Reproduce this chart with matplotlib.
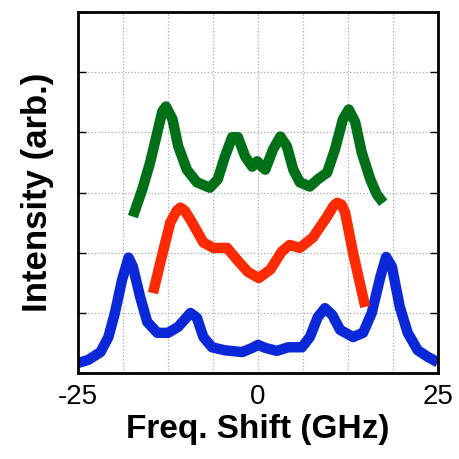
import matplotlib
matplotlib.use("Agg")
import matplotlib.pyplot as plt
from matplotlib.ticker import FixedLocator, FixedFormatter

plt.rcParams['font.family'] = ['Liberation Sans', 'DejaVu Sans']

# blue trace (bottom)
blue_x = [-25, -23.6, -21.9, -20.8, -19.9, -18.9, -18.0, -17.4, -16.4, -15.4, -14.0, -12.5,
          -11.1, -9.4, -8.5, -7.6, -6.4, -4.6, -2.2, -0.8, 0.0, 1.0, 2.6, 4.2, 6.1,
          7.2, 8.3, 9.3, 10.3, 11.4, 13.2, 14.6, 15.8, 17.0, 17.8, 18.6, 19.7, 20.8,
          22.2, 23.6, 25]
blue_y = [0.17, 0.22, 0.35, 0.60, 1.00, 1.55, 1.92, 1.77, 1.27, 0.85, 0.67, 0.67,
          0.77, 1.00, 0.92, 0.60, 0.43, 0.38, 0.35, 0.42, 0.47, 0.42, 0.37, 0.43, 0.43,
          0.60, 0.93, 1.08, 0.97, 0.72, 0.60, 0.67, 1.00, 1.60, 1.93, 1.77, 1.10, 0.67,
          0.38, 0.27, 0.18]

# red trace (middle)
red_x = [-14.6, -13.6, -12.2, -11.3, -10.8, -10.2, -9.4, -7.6, -6.2, -4.3, -2.9, -1.4, 0.1, 1.7,
         3.3, 4.4, 5.8, 7.6, 9.6, 10.5, 11.0, 11.6, 12.1, 13.2, 14.9]
red_y = [1.33, 1.83, 2.50, 2.70, 2.75, 2.70, 2.55, 2.17, 2.08, 2.08, 1.88, 1.68, 1.58, 1.72,
         2.02, 2.13, 2.08, 2.25, 2.60, 2.78, 2.83, 2.80, 2.67, 2.00, 1.10]

# green trace (top)
green_x = [-17.4, -16.1, -15.0, -14.0, -13.3, -12.8, -11.9, -11.1, -9.9, -8.5, -6.7, -5.6,
           -4.6, -3.6, -2.8, -1.8, -0.8, -0.1, 0.6, 1.0, 2.1, 3.1, 4.0, 4.9, 5.8,
           7.2, 8.3, 9.6, 10.7, 11.8, 12.6, 13.5, 14.4, 15.6, 16.5, 17.4]
green_y = [2.60, 3.05, 3.50, 4.00, 4.35, 4.43, 4.22, 3.77, 3.38, 3.17, 3.08, 3.22,
           3.60, 3.92, 3.92, 3.60, 3.43, 3.52, 3.42, 3.38, 3.72, 3.93, 3.77, 3.38, 3.17,
           3.10, 3.22, 3.33, 3.72, 4.22, 4.38, 4.17, 3.67, 3.22, 2.97, 2.83]

x_grid = [-25, -18.75, -12.5, -6.25, 0, 6.25, 12.5, 18.75, 25]
x_labels = ['-25', '', '', '', '0', '', '', '', '25']
y_grid = [0, 1, 2, 3, 4, 5, 6]

fig = plt.figure(figsize=(4.6, 4.59), dpi=100)
ax = fig.add_axes([0.17, 0.187, 0.782, 0.787])

lw = 7.5
style = dict(lw=lw, solid_capstyle='butt', solid_joinstyle='round')
ax.plot(blue_x, blue_y, color='#0a28d8', **style)
ax.plot(red_x, red_y, color='#ff2a00', **style)
ax.plot(green_x, green_y, color='#007018', **style)

ax.set_xlim(-25, 25)
ax.set_ylim(0, 6)
ax.xaxis.set_major_locator(FixedLocator(x_grid))
ax.xaxis.set_major_formatter(FixedFormatter(x_labels))
ax.yaxis.set_major_locator(FixedLocator(y_grid))
ax.set_yticklabels([])
ax.grid(True, color='#aaaaaa', linestyle=':', linewidth=0.9)
ax.tick_params(axis='y', direction='in', left=True, right=True, length=6, width=1)
ax.tick_params(axis='x', direction='in', bottom=True, top=False, length=0, labelsize=20, pad=8)
for s in ax.spines.values():
    s.set_linewidth(2)

ax.set_xlabel('Freq. Shift (GHz)', fontsize=24, fontweight='bold', labelpad=3)
ax.set_ylabel('Intensity (arb.)', fontsize=25, fontweight='bold', labelpad=14)

fig.savefig('out.png', dpi=100)
